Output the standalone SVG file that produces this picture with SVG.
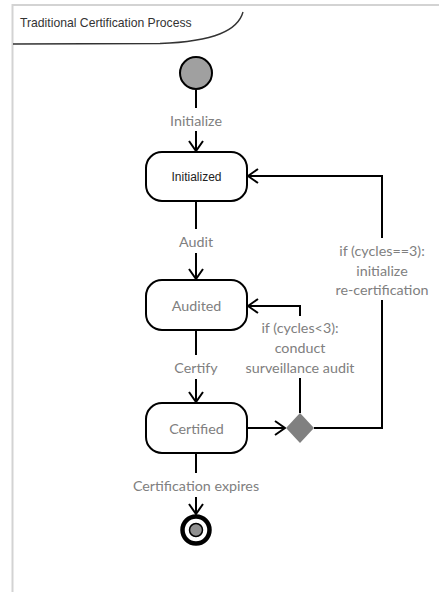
<svg xmlns="http://www.w3.org/2000/svg" width="439" height="592" viewBox="0 0 439 592">
<defs>
<marker id="open" viewBox="0 0 12 16" refX="11" refY="8" markerWidth="12" markerHeight="16" markerUnits="userSpaceOnUse" orient="auto">
<path d="M1,1 L11,8 L1,15" fill="none" stroke="#000" stroke-width="2"/>
</marker>
<style>
.edge{fill:none;stroke:#000;stroke-width:2}
.state{fill:#fff;stroke:#000;stroke-width:2}
.lbl{font-family:Lato,"Open Sans",sans-serif;font-size:14.3px;fill:#808080;text-anchor:middle;dominant-baseline:central}
.dark{font-family:"Liberation Sans",Arial,sans-serif;font-size:12px;fill:#222;text-anchor:middle;dominant-baseline:central}
</style>
</defs>
<rect width="439" height="592" fill="#fff"/>
<g id="frame">
<path d="M12.5,592 V5 H439" fill="none" stroke="#d3d3d3" stroke-width="2"/>
<path d="M13,44 L160,43.5 C215,41.5 238,30 243,12" fill="none" stroke="#333" stroke-width="1.4"/>
<text x="20" y="27" font-family="Liberation Sans, Arial, sans-serif" font-size="12.2" fill="#333">Traditional Certification Process</text>
</g>
<g id="connectors">
<path class="edge" d="M196,90 V108"/>
<path class="edge" d="M196,131 V151" marker-end="url(#open)"/>
<path class="edge" d="M196,201 V229"/>
<path class="edge" d="M196,253 V279" marker-end="url(#open)"/>
<path class="edge" d="M196,330 V355"/>
<path class="edge" d="M196,379 V402" marker-end="url(#open)"/>
<path class="edge" d="M196,453 V473"/>
<path class="edge" d="M196,497 V514" marker-end="url(#open)"/>
<path class="edge" d="M247,428 H285" marker-end="url(#open)"/>
<path class="edge" d="M300,413 V378"/>
<path class="edge" d="M300,316 V306 H248" marker-end="url(#open)"/>
<path class="edge" d="M314,428 H382 V300"/>
<path class="edge" d="M382,238 V176 H248" marker-end="url(#open)"/>
<text class="lbl" x="196" y="120">Initialize</text>
<text class="lbl" x="196" y="241">Audit</text>
<text class="lbl" x="196" y="367">Certify</text>
<text class="lbl" x="196" y="485">Certification expires</text>
<text class="lbl" x="300" y="327">if (cycles&lt;3):</text>
<text class="lbl" x="300" y="347">conduct</text>
<text class="lbl" x="300" y="367">surveillance audit</text>
<text class="lbl" x="382" y="250">if (cycles==3):</text>
<text class="lbl" x="382" y="270">initialize</text>
<text class="lbl" x="382" y="289">re-certification</text>
</g>
<g id="start">
<circle cx="196" cy="73" r="16" fill="#a0a0a0" stroke="#000" stroke-width="2"/>
</g>
<g id="initialized">
<rect class="state" x="146" y="152" width="101" height="49" rx="16"/>
<text class="dark" x="196.5" y="177">Initialized</text>
</g>
<g id="audited">
<rect class="state" x="146" y="280" width="101" height="50" rx="16"/>
<text class="lbl" x="196.5" y="305">Audited</text>
</g>
<g id="certified">
<rect class="state" x="146" y="403" width="101" height="50" rx="16"/>
<text class="lbl" x="196.5" y="428">Certified</text>
</g>
<g id="decision">
<path d="M300,413 L314,428 L300,443 L286,428 Z" fill="#808080"/>
</g>
<g id="end">
<circle cx="196" cy="530" r="13.5" fill="#fff" stroke="#000" stroke-width="4.5"/>
<circle cx="196" cy="530" r="6.5" fill="#909090" stroke="#000" stroke-width="1.5"/>
</g>
</svg>
